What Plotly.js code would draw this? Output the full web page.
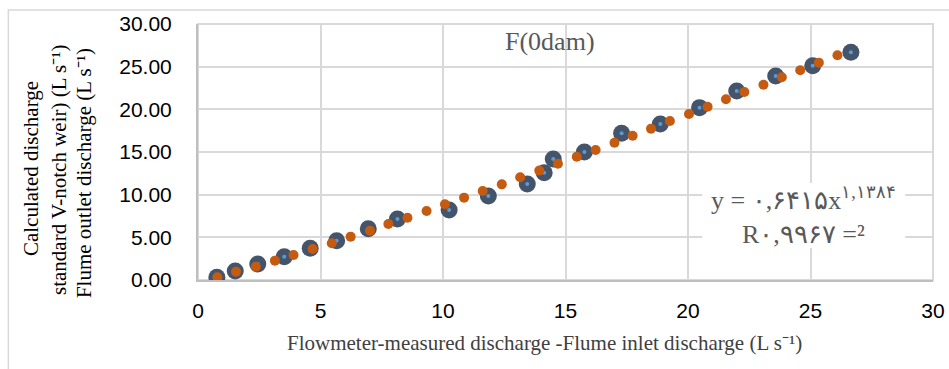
<!DOCTYPE html>
<html><head><meta charset="utf-8">
<script src="https://cdn.plot.ly/plotly-3.0.1.min.js"></script>
<style>html,body{margin:0;padding:0;background:#fff;}#chart{width:949px;height:369px;}</style>
</head><body><div id="chart"></div>
<script>
// Measured (flume) discharge points
const measuredX = [0.77,1.52,2.44,3.52,4.58,5.66,6.95,8.14,10.25,11.85,13.44,14.13,14.5,15.77,17.29,18.87,20.47,21.99,23.58,25.09,26.65];
const measuredY = [0.32,1.05,1.88,2.73,3.71,4.61,6.01,7.15,8.2,9.84,11.25,12.57,14.18,15.0,17.19,18.28,20.2,22.15,23.9,25.11,26.68];
// Calculated (V-notch weir) discharge points
const calcX = [0.79,1.55,2.36,3.14,3.90,4.68,5.46,6.23,7.02,7.77,8.55,9.33,10.08,10.86,11.62,12.4,13.15,13.93,14.69,15.46,16.23,17.0,17.74,18.49,19.26,20.04,20.8,21.55,22.3,23.08,23.83,24.58,25.34,26.1];
const calcY = [0.32,0.98,1.56,2.27,2.93,3.63,4.3,5.08,5.78,6.56,7.3,8.08,8.87,9.65,10.43,11.21,12.04,12.82,13.63,14.45,15.23,16.09,16.91,17.73,18.63,19.45,20.31,21.18,22.03,22.89,23.75,24.58,25.47,26.33];
const xTicks = [0,5,10,15,20,25,30];
const yTicks = [0,5,10,15,20,25,30];
const yTickText = ["0.00","5.00","10.00","15.00","20.00","25.00","30.00"];

const serif = "Liberation Serif, Times New Roman, serif";
const sans = "Liberation Sans, Arial, sans-serif";

const traces = [
  {x: measuredX, y: measuredY, type:'scatter', mode:'markers', marker:{size:17, color:'#44546A'}, hoverinfo:'skip'},
  {x: measuredX, y: measuredY, type:'scatter', mode:'markers', marker:{size:4, color:'#5B9BD5'}, hoverinfo:'skip'},
  {x: calcX, y: calcY, type:'scatter', mode:'markers', marker:{size:10, color:'#C55A11'}, hoverinfo:'skip'}
];

const layout = {
  width:949, height:369,
  margin:{l:198, r:16, t:24, b:89},
  paper_bgcolor:'#fff', plot_bgcolor:'#fff',
  showlegend:false,
  xaxis:{range:[0,30], tickvals:xTicks, ticktext:xTicks.map(String), showgrid:true, gridcolor:'#d9d9d9', gridwidth:2,
    showline:true, linecolor:'#bfbfbf', linewidth:2, mirror:false, zeroline:false, ticks:'',
    tickfont:{family:sans, size:21, color:'#000'}, ticklabelstandoff:11},
  yaxis:{range:[0,30], tickvals:yTicks, ticktext:yTickText, showgrid:true, gridcolor:'#d9d9d9', gridwidth:2,
    showline:true, linecolor:'#bfbfbf', linewidth:2, zeroline:false, ticks:'',
    tickfont:{family:sans, size:21, color:'#000'}, ticklabelstandoff:20},
  shapes:[
    {type:'rect', xref:'paper', yref:'paper', x0:0, x1:1, y0:0, y1:1, line:{color:'#d9d9d9', width:2}, fillcolor:'rgba(0,0,0,0)', layer:'below'},
    {type:'rect', xref:'x', yref:'y', x0:20.58, x1:28.87, y0:3.75, y1:11.37, line:{width:0}, fillcolor:'#fff', layer:'between'},
    {type:'rect', xref:'paper', yref:'paper', x0:-0.258, x1:1.0245, y0:1.055, y1:-0.5, line:{color:'#d9d9d9', width:1.5}, fillcolor:'rgba(0,0,0,0)', layer:'below'}
  ],
  annotations:[
    {xref:'x', yref:'y', x:14.38, y:27.9, text:'F(0dam)', showarrow:false, font:{family:serif, size:26, color:'#595959'}},
    {xref:'x', yref:'y', x:24.7, y:7.6, text:'y = ۰,۶۴۱۵x<sup>۱,۱۳۸۴</sup><br>R۰,۹۹۶۷ =²', showarrow:false, font:{family:serif, size:26, color:'#595959'}},
    {xref:'paper', yref:'paper', x:0.472, y:-0.245, xanchor:'center', yanchor:'middle', text:'Flowmeter-measured discharge -Flume inlet discharge (L s⁻¹)', showarrow:false, font:{family:serif, size:21, color:'#404040'}},
    {xref:'paper', yref:'paper', x:-0.227, y:0.434, xanchor:'center', yanchor:'middle', text:'Calculated discharge', textangle:-90, showarrow:false, font:{family:serif, size:21, color:'#000'}},
    {xref:'paper', yref:'paper', x:-0.189, y:0.43, xanchor:'center', yanchor:'middle', text:'standard V-notch weir) (L s⁻¹)', textangle:-90, showarrow:false, font:{family:serif, size:21, color:'#000'}},
    {xref:'paper', yref:'paper', x:-0.155, y:0.418, xanchor:'center', yanchor:'middle', text:'Flume outlet discharge (L s⁻¹)', textangle:-90, showarrow:false, font:{family:serif, size:21, color:'#000'}}
  ]
};
Plotly.newPlot('chart', traces, layout, {displayModeBar:false, staticPlot:true});
</script></body></html>
